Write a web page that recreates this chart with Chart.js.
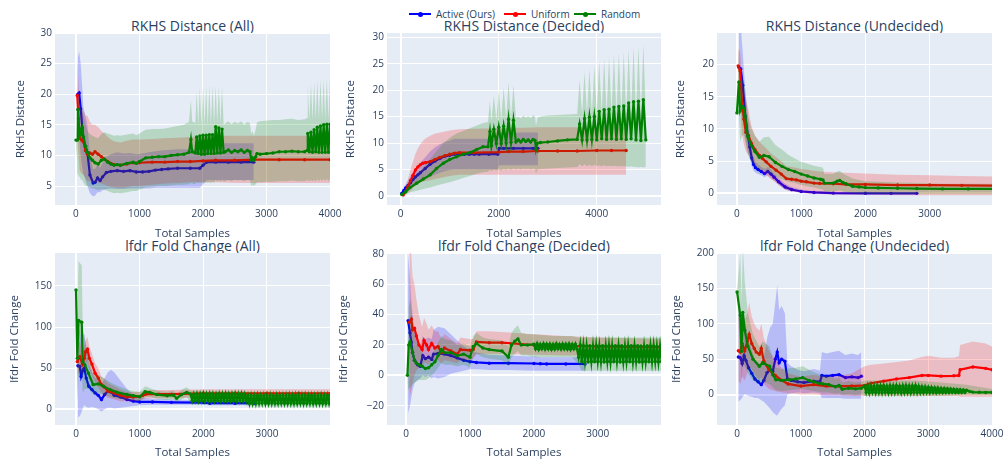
<!DOCTYPE html>
<html>
<head>
<meta charset="utf-8">
<script src="https://cdn.jsdelivr.net/npm/chart.js@4.4.1/dist/chart.umd.min.js"></script>
<style>
  body { margin: 0; width: 1003px; height: 464px; overflow: hidden; background: #fff; position: relative;
         font-family: 'Open Sans', sans-serif; color: #2a3f5f; }
  canvas { position: absolute; }
  .title { position: absolute; font-size: 14px; white-space: nowrap; transform: translate(-50%, -50%); }
  .leg { position: absolute; top: 14px; font-size: 10px; transform: translateY(-50%); display: flex; align-items: center; white-space: nowrap; }
  .leg i { position: relative; display: inline-block; width: 22px; height: 2px; margin-right: 5px; }
  .leg i::after { content: ''; position: absolute; left: 8.5px; top: -1.5px; width: 5px; height: 5px; border-radius: 50%; background: inherit; }
</style>
</head>
<body>
<div class="leg" style="left:409px"><i style="background:#0000ff"></i>Active (Ours)</div>
<div class="leg" style="left:504px"><i style="background:#ff0000"></i>Uniform</div>
<div class="leg" style="left:574px"><i style="background:#008000"></i>Random</div>

<div class="title" style="left:192.5px;top:25px">RKHS Distance (All)</div>
<div class="title" style="left:524px;top:25px">RKHS Distance (Decided)</div>
<div class="title" style="left:854.5px;top:25px">RKHS Distance (Undecided)</div>
<div class="title" style="left:192.5px;top:245px">lfdr Fold Change (All)</div>
<div class="title" style="left:524px;top:245px">lfdr Fold Change (Decided)</div>
<div class="title" style="left:854.5px;top:245px">lfdr Fold Change (Undecided)</div>

<script>
// ---------- RKHS Distance (All) ----------
const rkhsAllXRange = [-330, 4000];
const rkhsAllYRange = [1.9, 30];
const rkhsAllXTicks = [0, 1000, 2000, 3000, 4000];
const rkhsAllYTicks = [5, 10, 15, 20, 25, 30];

const rkhsAllActiveX = [30, 50, 75, 100, 115, 150, 180, 220, 270, 300, 340, 380, 420, 480, 550, 650, 750, 850, 950, 1050, 1150, 1250, 1350, 1450, 1600, 1800, 1950, 2000, 2060, 2200, 2400, 2600, 2800];
const rkhsAllActiveMean = [20.0, 20.2, 17.6, 14.5, 12.5, 11.5, 10.5, 6.8, 5.5, 5.6, 6.3, 5.9, 6.5, 7.2, 7.4, 7.5, 7.4, 7.5, 7.3, 7.3, 7.4, 7.6, 7.7, 7.8, 7.9, 7.9, 7.9, 8.4, 8.9, 8.9, 8.9, 8.9, 8.9];
const rkhsAllActiveLo = [14, 13, 10, 8, 7, 6, 5, 3.8, 3.3, 3.4, 4.0, 4.0, 4.3, 4.5, 4.6, 4.5, 4.5, 4.6, 4.6, 4.6, 4.6, 4.7, 4.7, 4.7, 4.7, 4.7, 4.7, 5.3, 6.0, 6.0, 6.0, 6.0, 6.0];
const rkhsAllActiveHi = [26, 27, 25, 21, 18, 16.5, 15, 10, 7.8, 7.8, 8.5, 8.0, 8.8, 9.8, 10.2, 10.5, 10.3, 10.4, 10.2, 10.3, 10.5, 10.7, 10.8, 10.9, 11.0, 11.0, 11.0, 11.5, 12.0, 12.0, 12.0, 12.0, 12.0];

const rkhsAllUniformX = [20, 40, 60, 90, 120, 150, 180, 220, 260, 300, 350, 400, 450, 500, 550, 600, 700, 800, 900, 1000, 1200, 1400, 1600, 1800, 2000, 2200, 2500, 2800, 3200, 3600, 4000];
const rkhsAllUniformMean = [19.8, 16.0, 12.8, 12.5, 12.2, 10.8, 10.2, 10.4, 10.2, 10.6, 10.2, 9.8, 9.4, 9.0, 8.7, 8.5, 8.4, 8.6, 8.8, 8.8, 8.9, 8.9, 9.0, 9.0, 9.1, 9.2, 9.2, 9.3, 9.3, 9.3, 9.3];
const rkhsAllUniformLo = [14, 10, 7.5, 7, 6.8, 6.3, 5.8, 5.8, 5.5, 5.6, 5.5, 5.4, 5.2, 5.0, 4.9, 4.8, 4.7, 4.8, 5.0, 5.0, 5.2, 5.4, 5.5, 5.6, 5.6, 5.6, 5.5, 5.5, 5.5, 5.5, 5.5];
const rkhsAllUniformHi = [26, 22, 18, 17.5, 17.2, 16.5, 16.5, 15.5, 15, 15, 14.6, 14, 13.6, 13, 12.6, 12.3, 12.1, 12.4, 12.6, 12.6, 12.7, 12.8, 12.9, 13.0, 13.1, 13.2, 13.2, 13.2, 13.2, 13.2, 13.2];

const rkhsAllRandomX = [0, 20, 30, 45, 60, 80, 100, 120, 150, 180, 220, 260, 300, 350, 400, 450, 500, 550, 600, 650, 700, 800, 900, 950, 1000, 1100, 1200, 1300, 1400, 1500, 1600, 1700, 1780, 1810, 1830, 1880,
  1900, 1925, 1950, 1975, 2000, 2025, 2050, 2075, 2100, 2125, 2150, 2175, 2200, 2225, 2250, 2275, 2300, 2325,
  2350, 2400, 2450, 2500, 2550, 2600, 2650, 2700, 2740, 2760, 2780, 2800, 2830, 2850, 2900, 3000, 3100, 3200, 3300, 3400, 3500, 3600, 3640,
  3650, 3675, 3700, 3725, 3750, 3775, 3800, 3825, 3850, 3875, 3900, 3925, 3950, 3975, 4000];
const rkhsAllRandomMean = [12.5, 12.5, 17.5, 14.0, 14.3, 13.5, 14.4, 13.0, 11.5, 10.5, 9.6, 9.2, 8.8, 8.6, 9.2, 9.4, 8.9, 8.6, 8.4, 8.5, 8.4, 8.7, 8.9, 8.7, 9.0, 9.6, 9.7, 9.8, 9.8, 10.0, 10.1, 10.2, 10.5, 12.6, 10.6, 10.4,
  13.0, 10.3, 13.2, 10.2, 13.3, 10.2, 13.3, 10.3, 13.4, 10.3, 13.4, 10.3, 14.7, 10.4, 14.5, 10.4, 14.3, 10.5,
  10.6, 10.9, 10.5, 10.8, 10.6, 10.9, 10.5, 10.8, 10.6, 9.3, 9.6, 9.2, 9.8, 10.3, 10.2, 10.3, 10.4, 10.6, 10.6, 10.7, 10.6, 10.6, 10.8,
  13.6, 10.6, 13.8, 10.5, 14.2, 10.6, 14.6, 10.5, 14.8, 10.5, 15.0, 10.5, 15.1, 10.5, 15.1];
const rkhsAllRandomLo = [11.5, 9, 7, 6.5, 6.5, 6, 6, 5.5, 5, 5, 4.8, 4.6, 4.5, 4.3, 4.5, 4.4, 4.2, 4.0, 3.8, 3.9, 3.8, 4.0, 4.2, 4.2, 4.4, 4.8, 4.9, 5.0, 5.0, 5.1, 5.2, 5.2, 5.3, 5.5, 5.4, 5.3,
  5.6, 5.4, 5.6, 5.4, 5.7, 5.4, 5.7, 5.5, 5.7, 5.5, 5.7, 5.5, 6.0, 5.6, 6.0, 5.6, 6.0, 5.7,
  5.8, 6.0, 5.8, 6.0, 5.9, 6.0, 5.8, 6.0, 5.9, 5.0, 5.2, 5.0, 5.3, 5.6, 5.6, 5.7, 5.7, 5.8, 5.8, 5.9, 5.8, 5.8, 5.9,
  6.0, 5.8, 6.0, 5.8, 6.0, 5.8, 6.1, 5.8, 6.1, 5.8, 6.2, 5.8, 6.2, 5.8, 6.2];
const rkhsAllRandomHi = [13.5, 16, 20, 19, 18.5, 17.5, 17.5, 16.5, 15, 14, 13.5, 13.2, 13, 12.8, 13.5, 13.8, 13.6, 13.4, 13.2, 13.3, 13.2, 13.4, 13.6, 13.3, 13.6, 14.2, 14.3, 14.3, 14.4, 14.6, 14.8, 15, 15.5, 19, 15.6, 15.3,
  20.5, 15.0, 21.0, 14.8, 21.2, 14.8, 21.2, 14.9, 21.3, 14.9, 21.4, 14.9, 21.5, 15.0, 21.4, 15.0, 21.2, 15.0,
  15.2, 15.6, 15.1, 15.5, 15.2, 15.6, 15.0, 15.5, 15.3, 13.5, 14.0, 13.2, 14.2, 15.4, 15.6, 15.7, 15.8, 15.8, 15.9, 16.0, 15.8, 15.9, 16.1,
  21.5, 15.8, 21.8, 15.8, 22.0, 15.9, 22.3, 15.9, 22.5, 15.9, 22.6, 15.9, 22.7, 15.9, 22.6];

// ---------- RKHS Distance (Decided) ----------
const rkhsDecXRange = [-280, 5310];
const rkhsDecYRange = [-1.7, 30.8];
const rkhsDecXTicks = [0, 2000, 4000];
const rkhsDecYTicks = [0, 5, 10, 15, 20, 25, 30];

const rkhsDecActiveX = [20, 60, 100, 150, 200, 250, 300, 350, 400, 500, 600, 700, 800, 900, 1000, 1100, 1200, 1300, 1400, 1500, 1600, 1800, 1980, 2010, 2100, 2300, 2500, 2700, 2800];
const rkhsDecActiveMean = [0.5, 1.0, 1.5, 2.0, 2.5, 3.1, 3.6, 4.0, 4.4, 5.2, 6.0, 6.6, 7.1, 7.5, 7.7, 7.9, 7.9, 7.9, 7.9, 7.9, 7.9, 7.9, 7.9, 9.0, 9.0, 9.0, 9.0, 9.0, 9.0];
const rkhsDecActiveLo = [0.2, 0.5, 0.8, 1.0, 1.3, 1.7, 2.0, 2.3, 2.6, 3.1, 3.6, 4.0, 4.4, 4.7, 4.9, 5.0, 5.0, 5.0, 5.0, 5.0, 5.0, 5.0, 5.0, 5.8, 5.8, 5.8, 5.8, 5.8, 5.8];
const rkhsDecActiveHi = [0.8, 1.5, 2.2, 3.0, 3.7, 4.5, 5.2, 5.8, 6.3, 7.3, 8.4, 9.2, 9.8, 10.2, 10.5, 10.8, 10.8, 10.8, 10.8, 10.8, 10.8, 10.8, 10.8, 12.0, 12.0, 12.0, 12.0, 12.0, 12.0];

const rkhsDecUniformX = [50, 100, 150, 200, 250, 300, 350, 400, 450, 500, 600, 700, 800, 900, 1000, 1100, 1200, 1500, 2000, 2200, 2500, 2800, 3200, 3600, 4000, 4300, 4600];
const rkhsDecUniformMean = [0.2, 0.8, 1.8, 2.9, 3.9, 4.9, 5.5, 5.9, 6.2, 6.3, 6.5, 6.9, 7.3, 7.6, 7.9, 8.1, 8.2, 8.2, 8.3, 8.4, 8.4, 8.5, 8.5, 8.5, 8.6, 8.6, 8.6];
const rkhsDecUniformLo = [0.1, 0.3, 0.6, 1.0, 1.5, 2.0, 2.3, 2.5, 2.7, 2.8, 3.0, 3.2, 3.4, 3.6, 3.8, 3.9, 4.0, 4.0, 4.0, 4.0, 4.0, 4.0, 4.0, 4.0, 4.0, 4.0, 4.0];
const rkhsDecUniformHi = [0.4, 1.5, 3.3, 5.0, 6.5, 8.0, 9.0, 9.8, 10.4, 10.8, 11.4, 11.8, 12.0, 12.2, 12.4, 12.5, 12.6, 12.7, 12.8, 12.9, 12.9, 13.0, 13.0, 13.0, 13.0, 13.0, 13.0];

const rkhsDecRandomX = [20, 100, 190, 325, 460, 600, 730, 870, 1000, 1140, 1275, 1410, 1550, 1680, 1780, 1820, 1850,
  1900, 1950, 2000, 2050, 2100, 2150, 2200, 2250, 2300, 2350,
  2400, 2450, 2500, 2550, 2600, 2650, 2700, 2740, 2760, 2790, 2850, 3000, 3200, 3400, 3600,
  3650, 3700, 3750, 3800, 3850, 3900, 3950, 4000, 4050, 4100, 4150, 4200, 4250, 4300, 4350, 4400, 4450, 4500, 4550, 4600, 4650, 4700, 4750, 4800, 4850, 4900, 4950, 5000];
const rkhsDecRandomMean = [0.3, 0.8, 1.6, 2.4, 3.2, 4.0, 5.2, 6.2, 6.9, 7.4, 7.9, 8.2, 8.8, 9.3, 9.3, 12.2, 9.5,
  12.6, 9.9, 13.0, 9.9, 13.2, 10.0, 14.5, 10.1, 14.3, 10.2,
  10.6, 10.2, 10.7, 10.3, 10.6, 10.2, 10.7, 10.5, 8.8, 10.0, 10.1, 10.2, 10.4, 10.6, 10.7,
  13.6, 10.6, 14.6, 10.6, 14.9, 10.7, 15.0, 10.6, 16.0, 10.8, 16.3, 10.7, 16.4, 10.8, 16.8, 10.7, 16.9, 10.8, 17.0, 10.7, 17.6, 10.8, 17.8, 10.6, 17.9, 10.5, 18.2, 10.6];
const rkhsDecRandomLo = [0.1, 0.3, 0.7, 1.0, 1.3, 1.6, 2.0, 2.3, 2.6, 3.0, 3.4, 3.8, 4.2, 4.5, 4.6, 5.0, 4.7,
  5.0, 4.8, 5.0, 4.8, 5.1, 4.9, 5.2, 4.9, 5.2, 5.0,
  5.2, 5.0, 5.2, 5.1, 5.2, 5.0, 5.2, 5.1, 4.3, 5.0, 5.1, 5.2, 5.3, 5.4, 5.5,
  6.0, 5.6, 6.0, 5.6, 5.9, 5.6, 5.9, 5.6, 5.8, 5.6, 5.8, 5.6, 5.7, 5.6, 5.7, 5.6, 5.6, 5.6, 5.6, 5.6, 5.5, 5.6, 5.5, 5.5, 5.4, 5.5, 5.4, 5.5];
const rkhsDecRandomHi = [0.5, 1.5, 3.0, 4.2, 5.5, 7.0, 8.5, 10.0, 11.0, 11.8, 12.3, 12.8, 13.3, 13.8, 14.0, 18.0, 14.2,
  19.0, 14.4, 20.0, 14.5, 20.5, 14.6, 21.5, 14.7, 21.0, 14.8,
  15.0, 14.7, 15.2, 14.8, 15.1, 14.7, 15.3, 15.0, 13.3, 14.8, 15.0, 15.2, 15.3, 15.4, 15.5,
  22.0, 15.5, 23.5, 15.5, 24.0, 15.6, 24.5, 15.5, 25.5, 15.7, 26.0, 15.6, 26.3, 15.7, 26.8, 15.6, 27.0, 15.7, 27.2, 15.6, 27.8, 15.7, 28.2, 15.5, 28.5, 15.5, 28.8, 15.5];

// ---------- RKHS Distance (Undecided) ----------
const rkhsUndXRange = [-310, 3970];
const rkhsUndYRange = [-1.8, 24.9];
const rkhsUndXTicks = [0, 1000, 2000, 3000];
const rkhsUndYTicks = [0, 5, 10, 15, 20];

const rkhsUndActiveX = [30, 60, 90, 130, 170, 200, 230, 260, 290, 330, 380, 430, 480, 530, 580, 650, 750, 850, 1000, 1200, 1500, 2000, 2400, 2800];
const rkhsUndActiveMean = [19.6, 19.3, 16.8, 12.0, 9.0, 7.2, 5.5, 4.5, 4.0, 3.7, 3.4, 3.1, 3.4, 3.0, 2.5, 1.8, 1.0, 0.6, 0.3, 0.15, 0.05, 0.02, 0.01, 0.01];
const rkhsUndActiveLo = [14, 13, 11.5, 8.5, 6.5, 5.5, 4.2, 3.5, 3.2, 3.0, 2.8, 2.5, 2.8, 2.4, 2.0, 1.3, 0.6, 0.3, 0.1, 0.0, -0.1, -0.1, -0.1, -0.1];
const rkhsUndActiveHi = [27, 26, 22, 16, 12, 9.2, 7, 5.6, 4.9, 4.5, 4.1, 3.8, 4.1, 3.7, 3.1, 2.4, 1.5, 1.0, 0.6, 0.35, 0.2, 0.15, 0.12, 0.12];

const rkhsUndUniformX = [20, 50, 80, 110, 140, 180, 225, 280, 350, 400, 455, 530, 610, 690, 770, 850, 925, 1000, 1080, 1200, 1290, 1500, 1700, 2000, 2500, 3000, 3500, 4000];
const rkhsUndUniformMean = [19.8, 19.0, 14.0, 11.5, 9.5, 9.0, 7.8, 6.8, 5.9, 5.4, 4.9, 4.2, 3.6, 3.0, 2.3, 2.2, 2.1, 1.9, 1.8, 1.6, 1.55, 1.5, 1.4, 1.4, 1.3, 1.3, 1.25, 1.2];
const rkhsUndUniformLo = [17, 15, 9, 7.5, 6.5, 6, 5.2, 4.5, 3.8, 3.3, 2.8, 2.2, 1.6, 1.0, 0.5, 0.3, 0.2, 0.1, 0.0, -0.1, -0.1, -0.2, -0.2, -0.2, -0.3, -0.3, -0.3, -0.3];
const rkhsUndUniformHi = [22.5, 22, 18, 16, 14.5, 13, 10.5, 9.0, 8.0, 7.5, 7.0, 6.2, 5.6, 5.0, 4.2, 4.1, 4.0, 3.8, 3.7, 3.5, 3.4, 3.3, 3.2, 3.1, 2.9, 2.8, 2.7, 2.6];

const rkhsUndRandomX = [0, 30, 50, 80, 110, 130, 170, 220, 280, 350, 420, 500, 600, 700, 800, 900, 1000, 1100, 1200, 1300, 1340, 1360, 1500, 1560, 1600, 1650, 1700, 1800, 1900, 2000, 2200, 2500, 2800, 3200, 3600, 4000];
const rkhsUndRandomMean = [12.5, 17.3, 12.8, 13.5, 13.2, 12.0, 8.8, 7.5, 6.5, 5.6, 5.9, 5.7, 4.8, 4.2, 3.7, 3.4, 3.0, 2.7, 2.4, 2.2, 2.1, 1.6, 1.6, 1.9, 2.0, 1.7, 1.5, 1.1, 1.0, 0.9, 0.85, 0.8, 0.75, 0.7, 0.7, 0.7];
const rkhsUndRandomLo = [12, 12.5, 8, 9, 9, 8, 6, 5, 4.3, 3.6, 3.6, 3.2, 2.7, 2.2, 1.8, 1.6, 1.3, 1.1, 0.9, 0.7, 0.6, 0.3, 0.3, 0.4, 0.5, 0.3, 0.2, 0.0, 0.0, -0.1, -0.1, -0.1, -0.1, -0.1, -0.1, -0.1];
const rkhsUndRandomHi = [13, 22, 17.5, 18, 17.5, 16, 12, 10.2, 9.0, 8.0, 8.7, 8.8, 7.5, 6.8, 6.0, 5.4, 4.9, 4.6, 4.3, 4.1, 4.0, 3.0, 3.0, 3.4, 3.5, 3.1, 2.8, 2.3, 2.1, 1.9, 1.8, 1.7, 1.6, 1.5, 1.5, 1.5];

// ---------- lfdr Fold Change (All) ----------
const lfdrAllXRange = [-330, 3990];
const lfdrAllYRange = [-19, 190];
const lfdrAllXTicks = [0, 1000, 2000, 3000];
const lfdrAllYTicks = [0, 50, 100, 150];

const lfdrAllActiveX = [30, 60, 80, 110, 130, 160, 200, 250, 300, 350, 400, 450, 500, 550, 600, 700, 800, 900, 1000, 1200, 1500, 2000, 2100, 2500, 2800];
const lfdrAllActiveMean = [53, 52, 40, 48, 50, 38, 28, 24, 20, 17, 12, 18, 22, 21, 17, 15, 12, 10, 9, 9, 8.5, 8.2, 7.5, 7.5, 7.5];
const lfdrAllActiveLo = [-10, -8, -5, 2, 5, 3, 2, 3, 2, 0, -3, 0, 2, 2, 1, 2, 3, 4, 5, 5.5, 5.5, 5.5, 5, 5, 5];
const lfdrAllActiveHi = [100, 95, 85, 90, 92, 75, 55, 45, 38, 35, 30, 38, 45, 48, 45, 35, 25, 18, 15, 13, 12, 11, 10.5, 10.5, 10.5];

const lfdrAllUniformX = [20, 40, 60, 100, 130, 150, 180, 210, 250, 300, 350, 400, 450, 500, 600, 700, 800, 900, 1000, 1050, 1100, 1300, 1500, 2000, 2500, 3000, 3500, 4000];
const lfdrAllUniformMean = [58, 62, 64, 55, 62, 70, 73, 62, 55, 44, 38, 30, 27, 22, 20, 17, 15, 15, 15.5, 17, 18.5, 18.5, 18.5, 19.5, 19.5, 19.5, 19.5, 19.5];
const lfdrAllUniformLo = [40, 45, 48, 42, 48, 55, 58, 48, 42, 32, 27, 20, 17, 14, 12, 10, 10, 10, 10.5, 12, 13.5, 13.5, 13.5, 14.5, 14.5, 14.5, 14.5, 14.5];
const lfdrAllUniformHi = [75, 80, 82, 70, 76, 84, 88, 76, 68, 56, 50, 40, 37, 32, 28, 24, 21, 21, 21.5, 22, 23.5, 23.5, 23.5, 24.5, 24.5, 24.5, 24.5, 24.5];

const lfdrAllRandomX = [0, 20, 40, 90, 105, 140, 195, 270, 350, 430, 535, 640, 800, 900, 1000, 1085, 1160, 1270, 1430, 1530, 1580, 1660, 1740,
  1800, 1825, 1850, 1875, 1900, 1925, 1950, 1975, 2000, 2025,
  2050, 2075, 2100, 2125, 2150, 2175, 2200, 2225, 2250, 2275,
  2300, 2325, 2350, 2375, 2400, 2425, 2450, 2475, 2500, 2525,
  2550, 2575, 2600, 2625, 2650, 2675, 2700, 2725, 2750, 2775,
  2800, 2825, 2850, 2875, 2900, 2925, 2950, 2975, 3000, 3025,
  3050, 3075, 3100, 3125, 3150, 3175, 3200, 3225, 3250, 3275,
  3300, 3325, 3350, 3375, 3400, 3425, 3450, 3475, 3500, 3525,
  3550, 3575, 3600, 3625, 3650, 3675, 3700, 3725, 3750, 3775,
  3800, 3825, 3850, 3875, 3900, 3925, 3950, 3975, 4000];
const lfdrAllRandomMean = [145, 62, 108, 106, 58, 54, 44, 30, 31, 28, 24, 21, 18, 16.6, 15.4, 21.5, 20.7, 18, 16.6, 17.4, 13.4, 18, 20.7,
  18.5, 10.5, 18.2, 10.8, 18.6, 10.4, 18.4, 10.6, 18.8, 10.5,
  18.3, 10.7, 18.6, 10.4, 18.5, 10.6, 18.2, 10.8, 18.7, 10.5,
  18.4, 10.6, 18.6, 10.5, 18.3, 10.7, 18.5, 10.4, 18.6, 10.6,
  18.4, 10.5, 18.7, 10.6, 18.2, 10.4, 17.0, 7.5, 16.8, 7.6,
  16.6, 7.4, 16.9, 7.5, 16.5, 7.6, 16.8, 7.4, 16.6, 7.5,
  16.9, 7.6, 16.5, 7.4, 16.7, 7.5, 16.8, 7.6, 16.5, 7.4,
  16.7, 7.5, 16.9, 7.6, 16.6, 7.4, 16.8, 7.5, 16.5, 7.6,
  16.7, 7.4, 16.9, 7.5, 16.6, 7.6, 16.8, 7.4, 16.5, 7.5,
  16.7, 7.6, 16.9, 7.4, 16.6, 7.5, 16.8, 7.6, 16.6];
const lfdrAllRandomBandX = [0, 20, 40, 90, 105, 140, 195, 270, 350, 430, 535, 640, 800, 900, 1000, 1085, 1160, 1270, 1430, 1530, 1580, 1660, 1740,
  1800, 2000, 2200, 2400, 2600, 2700, 2800, 3000, 3200, 3400, 3600, 3800, 4000];
const lfdrAllRandomLo = [140, 10, 40, 45, 20, 25, 25, 18, 20, 18, 15, 13, 12, 11, 10, 15, 15, 13, 11.5, 12, 9, 12, 15,
  7, 7.5, 7.5, 7.5, 7.5, 4, 3.5, 3.5, 3.5, 3.5, 3.5, 3.5, 3.5];
const lfdrAllRandomHi = [150, 115, 180, 175, 100, 85, 65, 42, 42, 38, 33, 29, 24, 22, 21, 28, 26, 23, 21.5, 23, 18, 24, 27,
  23, 22, 22, 22, 22, 21, 20.5, 20.5, 20.5, 20.5, 20.5, 20.5, 20.5];

// ---------- lfdr Fold Change (Decided) ----------
const lfdrDecXRange = [-300, 3990];
const lfdrDecYRange = [-32.7, 80.6];
const lfdrDecXTicks = [0, 1000, 2000, 3000];
const lfdrDecYTicks = [-20, 0, 20, 40, 60, 80];

const lfdrDecActiveX = [30, 60, 80, 100, 130, 180, 220, 260, 300, 350, 400, 430, 500, 600, 700, 800, 900, 1000, 1100, 1300, 1600, 2000, 2100, 2200, 2500, 2800];
const lfdrDecActiveMean = [36, 28, 22, 15, 10, 7, 6, 13, 11, 12, 10.5, 14, 14.5, 14, 13, 11.5, 10, 9, 8.5, 8, 8, 7.8, 7.6, 7.5, 7.5, 7.5];
const lfdrDecActiveLo = [-25, -20, -15, -10, -5, -3, -2, 0, -1, 0, -2, -1, -2, -1, 1, 2, 3, 4, 4, 3.5, 3.5, 3, 3, 3, 3, 3];
const lfdrDecActiveHi = [80, 65, 50, 40, 30, 22, 18, 26, 24, 25, 24, 30, 32, 31, 27, 23, 19, 17, 15, 13.5, 13, 12.5, 12, 12, 12, 12];

const lfdrDecUniformX = [50, 80, 100, 130, 160, 200, 250, 280, 320, 350, 400, 450, 500, 550, 600, 700, 800, 850, 1000, 1050, 1100, 1300, 1500, 2000, 2500, 3000, 3500, 4000];
const lfdrDecUniformMean = [35, 37, 30, 31, 26, 20, 17, 23, 20, 17, 21, 18, 19, 15, 18, 16, 14, 17, 16.5, 17, 22, 21.5, 21.5, 20, 19.5, 19, 18.8, 18.5];
const lfdrDecUniformLo = [-15, -10, -5, 0, 3, 5, 5, 8, 8, 7, 10, 9, 10, 8, 10, 9, 8, 10, 10, 11, 14, 14, 14, 13.5, 13, 13, 13, 12.5];
const lfdrDecUniformHi = [85, 80, 65, 60, 50, 40, 32, 38, 34, 30, 33, 29, 29, 24, 27, 24, 21, 25, 24, 24, 29, 29, 28.5, 27, 26, 25, 24.5, 24];

const lfdrDecRandomX = [20, 40, 60, 100, 130, 160, 200, 250, 300, 350, 400, 450, 500, 550, 600, 700, 800, 900, 1000, 1050, 1100, 1200, 1300, 1500, 1600, 1650, 1700, 1750, 1800, 1900,
  2000, 2025, 2050, 2075, 2100, 2125, 2150, 2175, 2200, 2225,
  2250, 2275, 2300, 2325, 2350, 2375, 2400, 2425, 2450, 2475,
  2500, 2525, 2550, 2575, 2600, 2625, 2650, 2675,
  2700, 2725, 2750, 2775, 2800, 2825, 2850, 2875, 2900, 2925,
  2950, 2975, 3000, 3025, 3050, 3075, 3100, 3125, 3150, 3175,
  3200, 3225, 3250, 3275, 3300, 3325, 3350, 3375, 3400, 3425,
  3450, 3475, 3500, 3525, 3550, 3575, 3600, 3625, 3650, 3675,
  3700, 3725, 3750, 3775, 3800, 3825, 3850, 3875, 3900, 3925,
  3950, 3975, 4000];
const lfdrDecRandomMean = [0, 20, 22, 15, 10, 8, 7, 6, 4.5, 5, 7, 9, 13, 17, 15, 15, 13, 14, 12, 19, 21, 18, 17, 16, 12, 20, 22.5, 24, 20, 20,
  20.5, 17.5, 20.8, 17.2, 20.4, 17.6, 20.7, 17.3, 20.5, 17.5,
  20.6, 17.2, 20.4, 17.4, 20.8, 17.6, 20.3, 17.3, 20.6, 17.5,
  20.5, 17.4, 20.7, 17.2, 20.4, 17.5, 20.6, 17.3,
  12.0, 20.0, 9.0, 19.5, 9.2, 19.3, 8.8, 19.6, 9.1, 19.4,
  8.9, 19.5, 9.2, 19.2, 9.0, 19.6, 8.8, 19.3, 9.1, 19.5,
  9.0, 19.4, 8.9, 19.6, 9.2, 19.3, 8.8, 19.5, 9.0, 19.2,
  9.1, 19.4, 8.9, 19.6, 9.0, 19.3, 9.2, 19.5, 8.8, 19.4,
  9.0, 19.2, 9.1, 19.5, 8.9, 19.3, 9.0, 19.4, 9.2, 19.1,
  8.9, 19.2, 9.0];
const lfdrDecRandomBandX = [20, 40, 60, 100, 130, 160, 200, 250, 300, 350, 400, 450, 500, 550, 600, 700, 800, 900, 1000, 1050, 1100, 1200, 1300, 1500, 1600, 1650, 1700, 1750, 1800, 1900,
  2000, 2300, 2600, 2700, 2750, 3000, 3300, 3600, 3900, 4000];
const lfdrDecRandomLo = [-5, -10, -8, -6, -5, -4, -3, -3, -3, -2, 0, 2, 5, 8, 7, 7, 6, 7, 5, 12, 14, 12, 11, 10, 6, 12, 14, 16, 13, 13,
  12, 12, 12, 7, 3, 3, 3, 3, 3, 3];
const lfdrDecRandomHi = [5, 45, 50, 38, 28, 22, 18, 15, 12, 12, 14, 17, 22, 26, 24, 23, 20, 21, 19, 26, 28, 25, 24, 23, 19, 28, 31, 33, 28, 27,
  27, 26, 26, 25, 25, 25, 25, 25, 25, 25];

// ---------- lfdr Fold Change (Undecided) ----------
const lfdrUndXRange = [-315, 4000];
const lfdrUndYRange = [-43, 200];
const lfdrUndXTicks = [0, 1000, 2000, 3000, 4000];
const lfdrUndYTicks = [0, 50, 100, 150, 200];

const lfdrUndActiveX = [20, 50, 80, 110, 140, 180, 230, 280, 330, 380, 420, 470, 520, 560, 600, 630, 660, 700, 750, 790, 850, 950, 1050, 1200, 1300, 1330, 1400, 1500, 1600, 1700, 1800, 1900, 1950];
const lfdrUndActiveMean = [53, 52, 44, 55, 48, 38, 30, 22, 18, 14, 20, 31, 35, 33, 50, 60, 45, 50, 47, 22, 20, 18, 17, 19, 18, 27, 26, 27, 28, 24, 25, 24, 26];
const lfdrUndActiveLo = [-10, -8, -5, 0, 0, -2, -3, -5, -5, -8, -10, -15, -20, -25, -28, -30, -25, -20, -15, 0, 2, 3, 2, 3, 2, -5, -5, -5, -5, -6, -6, -6, -6];
const lfdrUndActiveHi = [120, 112, 95, 110, 96, 78, 63, 50, 45, 40, 50, 80, 95, 100, 130, 155, 120, 125, 115, 45, 40, 35, 33, 36, 34, 60, 58, 60, 62, 56, 58, 56, 60];

const lfdrUndUniformX = [20, 50, 80, 120, 160, 190, 230, 270, 300, 350, 380, 420, 500, 600, 700, 800, 1000, 1200, 1400, 1600, 1800, 2000, 2100, 2300, 2500, 2700, 2900, 3000, 3200, 3400, 3480, 3500, 3700, 3900, 4000];
const lfdrUndUniformMean = [62, 60, 72, 62, 75, 85, 72, 65, 60, 57, 65, 47, 35, 27, 20, 15, 12, 14, 12, 12, 12, 13, 16, 19, 22, 24, 27, 27, 26, 26.5, 27, 35, 39, 37, 35];
const lfdrUndUniformLo = [20, 15, 25, 20, 30, 40, 35, 30, 25, 20, 25, 15, 8, 5, 3, 2, 0, 0, -1, -1, -2, -2, -2, -2, -2, -2, -2, -2, -2, -2, -2, -3, -3, -3, -3];
const lfdrUndUniformHi = [110, 110, 120, 105, 115, 130, 110, 100, 95, 90, 100, 80, 62, 50, 38, 30, 25, 28, 25, 26, 30, 40, 42, 44, 46, 48, 53, 55, 52, 52, 54, 70, 75, 72, 68];

const lfdrUndRandomX = [0, 50, 70, 90, 120, 170, 250, 350, 400, 510, 560, 610, 700, 820, 920, 1030, 1130, 1200, 1290, 1350, 1440, 1545, 1600, 1650, 1750, 1860, 1950,
  2000, 2025, 2050, 2075, 2100, 2125, 2150, 2175, 2200, 2225,
  2250, 2275, 2300, 2325, 2350, 2375, 2400, 2425, 2450, 2475,
  2500, 2525, 2550, 2575, 2600, 2625, 2650, 2675, 2700, 2725,
  2750, 2775, 2800, 2825, 2850, 2875, 2900, 2925, 2950, 2975,
  3000, 3025, 3050, 3075, 3100, 3125, 3150, 3175, 3200, 3225,
  3250, 3275, 3300, 3325, 3350, 3375, 3400, 3425, 3450, 3475,
  3500, 3525, 3550, 3575, 3600,
  3650, 3700, 3800, 3900, 4000];
const lfdrUndRandomMean = [145, 112, 61, 116, 91, 68, 50, 40, 45, 40, 28, 21, 20, 21, 22, 24, 20, 18, 16, 15, 14, 11, 13, 7.5, 9, 8, 9,
  12.0, 3.0, 12.5, 2.5, 11.8, 3.2, 12.3, 2.8, 12.6, 3.0,
  12.1, 2.6, 12.4, 3.1, 11.9, 2.7, 12.5, 3.0, 12.2, 2.8,
  12.4, 3.2, 11.8, 2.6, 12.3, 2.9, 12.6, 3.0, 12.0, 2.7,
  12.2, 3.1, 12.5, 2.8, 11.6, 3.0, 11.0, 2.9, 10.8, 3.1,
  10.2, 2.8, 9.8, 3.0, 9.5, 2.7, 9.2, 3.1, 8.8, 2.9,
  8.6, 3.0, 8.2, 2.8, 7.9, 3.1, 7.6, 2.9, 7.2, 3.0,
  7.0, 2.9, 6.6, 3.0, 6.3,
  4.5, 3.5, 3.2, 3.0, 3.0];
const lfdrUndRandomBandX = [0, 50, 70, 90, 120, 170, 250, 350, 400, 510, 560, 610, 700, 820, 920, 1030, 1130, 1200, 1290, 1350, 1440, 1545, 1600, 1650, 1750, 1860, 1950,
  2000, 2400, 2800, 3200, 3600, 4000];
const lfdrUndRandomLo = [140, 60, 20, 40, 40, 30, 20, 15, 18, 15, 10, 6, 5, 6, 7, 8, 6, 5, 4, 3, 3, 1, 2, -1, 0, -1, 0,
  -2, -2, -2, -2, -1, -1];
const lfdrUndRandomHi = [150, 200, 130, 210, 160, 115, 85, 68, 75, 68, 50, 38, 36, 37, 38, 40, 35, 32, 29, 27, 26, 22, 24, 17, 19, 17, 18,
  20, 20, 20, 17, 14, 8];

// ---------- drawing ----------
const lineColors = ['#0000ff', '#ff0000', '#008000'];
const bandColors = ['rgba(0,0,255,0.2)', 'rgba(255,0,0,0.2)', 'rgba(0,128,0,0.2)'];
const textColor = '#2a3f5f';

Chart.defaults.font.family = "'Open Sans', verdana, arial, sans-serif";

const panels = [
  { box: [55, 33, 330, 205], yTitle: 'RKHS Distance', yPad: 14.1, xPad: 4.1,
    xRange: rkhsAllXRange, yRange: rkhsAllYRange, xTicks: rkhsAllXTicks, yTicks: rkhsAllYTicks,
    series: [
      [rkhsAllActiveX, rkhsAllActiveMean, rkhsAllActiveX, rkhsAllActiveLo, rkhsAllActiveHi],
      [rkhsAllUniformX, rkhsAllUniformMean, rkhsAllUniformX, rkhsAllUniformLo, rkhsAllUniformHi],
      [rkhsAllRandomX, rkhsAllRandomMean, rkhsAllRandomX, rkhsAllRandomLo, rkhsAllRandomHi]] },
  { box: [387, 33, 661, 205], yTitle: 'RKHS Distance', yPad: 12.1, xPad: 4.1,
    xRange: rkhsDecXRange, yRange: rkhsDecYRange, xTicks: rkhsDecXTicks, yTicks: rkhsDecYTicks,
    series: [
      [rkhsDecActiveX, rkhsDecActiveMean, rkhsDecActiveX, rkhsDecActiveLo, rkhsDecActiveHi],
      [rkhsDecUniformX, rkhsDecUniformMean, rkhsDecUniformX, rkhsDecUniformLo, rkhsDecUniformHi],
      [rkhsDecRandomX, rkhsDecRandomMean, rkhsDecRandomX, rkhsDecRandomLo, rkhsDecRandomHi]] },
  { box: [717, 33, 992, 205], yTitle: 'RKHS Distance', yPad: 12.1, xPad: 4.1,
    xRange: rkhsUndXRange, yRange: rkhsUndYRange, xTicks: rkhsUndXTicks, yTicks: rkhsUndYTicks,
    series: [
      [rkhsUndActiveX, rkhsUndActiveMean, rkhsUndActiveX, rkhsUndActiveLo, rkhsUndActiveHi],
      [rkhsUndUniformX, rkhsUndUniformMean, rkhsUndUniformX, rkhsUndUniformLo, rkhsUndUniformHi],
      [rkhsUndRandomX, rkhsUndRandomMean, rkhsUndRandomX, rkhsUndRandomLo, rkhsUndRandomHi]] },
  { box: [55, 253, 330, 425], yTitle: 'lfdr Fold Change', yPad: 8.1, xPad: 5.1,
    xRange: lfdrAllXRange, yRange: lfdrAllYRange, xTicks: lfdrAllXTicks, yTicks: lfdrAllYTicks,
    series: [
      [lfdrAllActiveX, lfdrAllActiveMean, lfdrAllActiveX, lfdrAllActiveLo, lfdrAllActiveHi],
      [lfdrAllUniformX, lfdrAllUniformMean, lfdrAllUniformX, lfdrAllUniformLo, lfdrAllUniformHi],
      [lfdrAllRandomX, lfdrAllRandomMean, lfdrAllRandomBandX, lfdrAllRandomLo, lfdrAllRandomHi]] },
  { box: [387, 253, 661, 425], yTitle: 'lfdr Fold Change', yPad: 5.1, xPad: 5.1,
    xRange: lfdrDecXRange, yRange: lfdrDecYRange, xTicks: lfdrDecXTicks, yTicks: lfdrDecYTicks,
    series: [
      [lfdrDecActiveX, lfdrDecActiveMean, lfdrDecActiveX, lfdrDecActiveLo, lfdrDecActiveHi],
      [lfdrDecUniformX, lfdrDecUniformMean, lfdrDecUniformX, lfdrDecUniformLo, lfdrDecUniformHi],
      [lfdrDecRandomX, lfdrDecRandomMean, lfdrDecRandomBandX, lfdrDecRandomLo, lfdrDecRandomHi]] },
  { box: [717, 253, 992, 425], yTitle: 'lfdr Fold Change', yPad: 8.1, xPad: 5.1,
    xRange: lfdrUndXRange, yRange: lfdrUndYRange, xTicks: lfdrUndXTicks, yTicks: lfdrUndYTicks,
    series: [
      [lfdrUndActiveX, lfdrUndActiveMean, lfdrUndActiveX, lfdrUndActiveLo, lfdrUndActiveHi],
      [lfdrUndUniformX, lfdrUndUniformMean, lfdrUndUniformX, lfdrUndUniformLo, lfdrUndUniformHi],
      [lfdrUndRandomX, lfdrUndRandomMean, lfdrUndRandomBandX, lfdrUndRandomLo, lfdrUndRandomHi]] }
];

const plotBackground = {
  id: 'plotBackground',
  beforeDraw(chart) {
    const { ctx, chartArea } = chart;
    ctx.save();
    ctx.fillStyle = '#E5ECF6';
    ctx.fillRect(chartArea.left, chartArea.top, chartArea.right - chartArea.left, chartArea.bottom - chartArea.top);
    ctx.restore();
  }
};

function points(xs, ys) {
  return xs.map((x, i) => ({ x: x, y: ys[i] }));
}

function tickText(v) {
  return v < 0 ? '\u2212' + Math.abs(v) : String(v);
}

function gridWidth(c) {
  return c.tick && c.tick.value === 0 ? 2 : 1;
}

panels.forEach(p => {
  const [L, T, R, B] = p.box;
  const canvas = document.createElement('canvas');
  canvas.width = R - L + 80;
  canvas.height = B - T + 60;
  canvas.style.left = (L - 55) + 'px';
  canvas.style.top = (T - 20) + 'px';
  document.body.appendChild(canvas);

  const datasets = [];
  p.series.forEach((s, i) => {
    const base = (2 - i) * 3;
    datasets.push({ data: points(s[2], s[3]), borderWidth: 0, borderColor: 'transparent', pointRadius: 0, fill: false, order: base + 2 });
    datasets.push({ data: points(s[2], s[4]), borderWidth: 0, borderColor: 'transparent', pointRadius: 0, fill: '-1', backgroundColor: bandColors[i], order: base + 1 });
    datasets.push({ data: points(s[0], s[1]), borderColor: lineColors[i], backgroundColor: lineColors[i], borderWidth: 2.2,
      pointRadius: 1.7, pointBorderWidth: 0, fill: false, tension: 0, order: base });
  });

  new Chart(canvas, {
    type: 'line',
    data: { datasets: datasets },
    plugins: [plotBackground],
    options: {
      responsive: false,
      animation: false,
      events: [],
      layout: { padding: { top: 20, right: 25, bottom: 0, left: 0 } },
      plugins: { legend: { display: false }, tooltip: { enabled: false } },
      scales: {
        x: {
          type: 'linear', min: p.xRange[0], max: p.xRange[1],
          afterBuildTicks: a => { a.ticks = p.xTicks.map(v => ({ value: v })); },
          afterFit: s => { s.height = 40; },
          grid: { color: '#ffffff', lineWidth: gridWidth, drawTicks: false },
          border: { display: false },
          ticks: { color: textColor, font: { size: 10 }, padding: 3, maxRotation: 0, autoSkip: false, callback: tickText },
          title: { display: true, text: 'Total Samples', color: textColor, font: { size: 11.5 }, padding: { top: 0, bottom: p.xPad } }
        },
        y: {
          type: 'linear', min: p.yRange[0], max: p.yRange[1],
          afterBuildTicks: a => { a.ticks = p.yTicks.map(v => ({ value: v })); },
          afterFit: s => { s.width = 55; },
          grid: { color: '#ffffff', lineWidth: gridWidth, drawTicks: false },
          border: { display: false },
          ticks: { color: textColor, font: { size: 10 }, padding: 3, autoSkip: false, callback: tickText },
          title: { display: true, text: p.yTitle, color: textColor, font: { size: 11.5 }, padding: { top: p.yPad, bottom: 0 } }
        }
      }
    }
  });
});
</script>
</body>
</html>
